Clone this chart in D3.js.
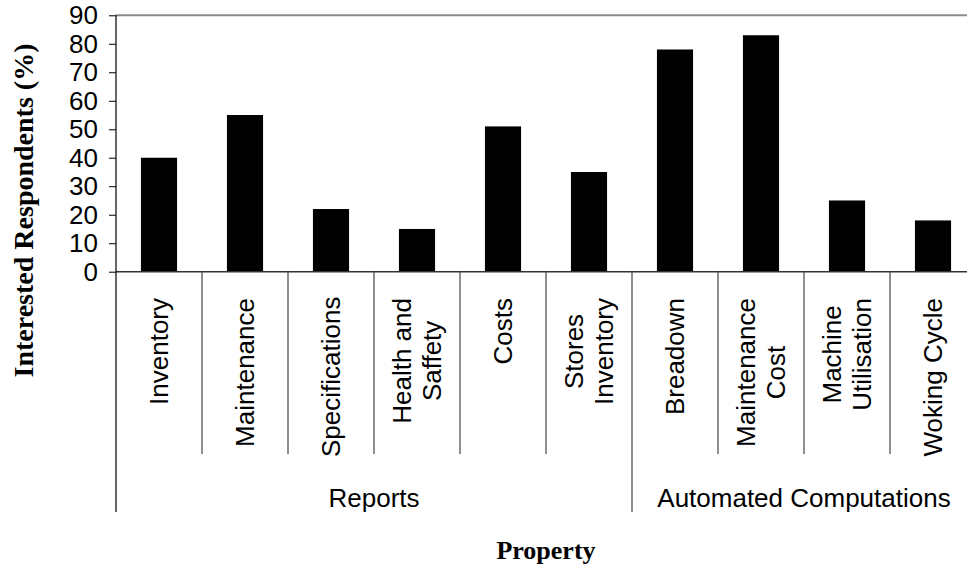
<!DOCTYPE html>
<html>
<head>
<meta charset="utf-8">
<script src="https://cdn.jsdelivr.net/npm/d3@7"></script>
<style>
  body { margin: 0; background: #fff; }
  svg { display: block; }
  .tick text { font-family: "Liberation Sans", Arial, sans-serif; }
</style>
</head>
<body>
<div id="graphic"></div>
<script>
var categories = ["Inventory", "Maintenance", "Specifications", "Health and\nSaffety", "Costs",
  "Stores\nInventory", "Breadown", "Maintenance\nCost", "Machine\nUtilisation", "Woking Cycle"];
var values = [40, 55, 22, 15, 51, 35, 78, 83, 25, 18];
var groupNames = ["Reports", "Automated Computations"];
var groupSizes = [6, 4];
var yTicks = [0, 10, 20, 30, 40, 50, 60, 70, 80, 90];

var width = 967, height = 570;
var plotLeft = 116, plotRight = 976, plotTop = 15.3, plotZero = 271.7;
var sans = "'Liberation Sans', Arial, sans-serif";
var serif = "'Liberation Serif', 'Times New Roman', serif";

var svg = d3.select("#graphic").append("svg").attr("width", width).attr("height", height);

var x = d3.scaleBand().domain(d3.range(categories.length)).range([plotLeft, plotRight])
  .paddingInner(0.58).paddingOuter(0.29);
var col = d3.scaleBand().domain(d3.range(categories.length)).range([plotLeft, plotRight]).padding(0);
var y = d3.scaleLinear().domain([0, 90]).range([plotZero, plotTop]);

// top border of plot area
svg.append("line").attr("x1", plotLeft).attr("x2", plotRight).attr("y1", y(90)).attr("y2", y(90))
  .attr("stroke", "#8a8a8a").attr("stroke-width", 2);

// bars
svg.selectAll("rect.bar").data(values).enter().append("rect")
  .attr("class", "bar")
  .attr("x", function(d, i) { return x(i); })
  .attr("width", x.bandwidth())
  .attr("y", function(d) { return y(d); })
  .attr("height", function(d) { return y(0) - y(d); })
  .attr("fill", "#000");

// y axis
var yAxis = d3.axisLeft(y).tickValues(yTicks).tickSize(7).tickPadding(11);
var ga = svg.append("g").attr("transform", "translate(" + plotLeft + ",0)").call(yAxis);
ga.select(".domain").remove();
ga.selectAll(".tick line").attr("stroke", "#000");
ga.selectAll(".tick text").attr("font-size", 26).attr("fill", "#000");

// zero line
svg.append("line").attr("x1", plotLeft).attr("x2", plotRight).attr("y1", y(0)).attr("y2", y(0))
  .attr("stroke", "#333").attr("stroke-width", 1.5);

// category separators (long ones at group edges)
var groupStarts = [0];
groupSizes.forEach(function(n, i) { groupStarts.push(groupStarts[i] + n); });
var seps = d3.range(categories.length + 1);
svg.selectAll("line.sep").data(seps).enter().append("line")
  .attr("class", "sep")
  .attr("x1", function(i) { return i < categories.length ? col(i) : plotRight; })
  .attr("x2", function(i) { return i < categories.length ? col(i) : plotRight; })
  .attr("y1", function(i) { return i === 0 ? y(90) : y(0); })
  .attr("y2", function(i) { return groupStarts.indexOf(i) >= 0 ? 512 : 454; })
  .attr("stroke", function(i) { return i === 0 ? "#000" : "#444"; })
  .attr("stroke-width", 1.2);

// category labels, rotated
var labelTop = 298, labelBottom = 457, lineGap = 30;
categories.forEach(function(c, i) {
  var lines = c.split("\n");
  var cx = col(i) + col.bandwidth() / 2;
  var g = svg.append("g");
  var texts = lines.map(function(t) {
    return g.append("text")
      .attr("font-family", sans).attr("font-size", 26).attr("fill", "#000")
      .attr("text-anchor", "middle").attr("dominant-baseline", "central")
      .text(t);
  });
  var len = d3.max(texts, function(t) { return t.node().getComputedTextLength(); });
  var t0 = labelTop;
  if (t0 + len > labelBottom) t0 = labelBottom - len;
  var cy = t0 + len / 2;
  texts.forEach(function(t, j) {
    var off = (j - (lines.length - 1) / 2) * lineGap;
    t.attr("transform", "translate(" + (cx + off) + "," + cy + ") rotate(-90)");
  });
});

// group labels
groupNames.forEach(function(name, k) {
  var a = col(groupStarts[k]);
  var b = groupStarts[k + 1] < categories.length ? col(groupStarts[k + 1]) : plotRight;
  svg.append("text")
    .attr("x", (a + b) / 2).attr("y", 507)
    .attr("font-family", sans).attr("font-size", 26).attr("fill", "#000")
    .attr("text-anchor", "middle").text(name);
});

// axis titles
svg.append("text")
  .attr("transform", "translate(33,210.5) rotate(-90)")
  .attr("font-family", serif).attr("font-weight", "bold").attr("font-size", 28)
  .attr("text-anchor", "middle").text("Interested Respondents (%)");
svg.append("text")
  .attr("x", 546).attr("y", 559)
  .attr("font-family", serif).attr("font-weight", "bold").attr("font-size", 26)
  .attr("text-anchor", "middle").text("Property");
</script>
</body>
</html>
